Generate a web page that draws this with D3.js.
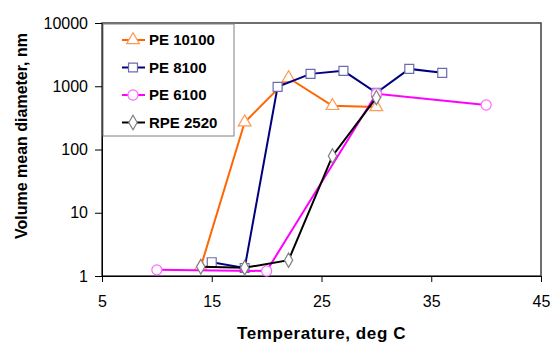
<!doctype html>
<html lang="en">
<head>
<meta charset="UTF-8">
<title>Volume mean diameter vs temperature</title>
<style>
  body { margin: 0; background: #fff; }
  svg { font-family: Arial, "Liberation Sans", sans-serif; }
  .axis path, .axis line { stroke: #000; }
  .axis text { font-size: 16px; fill: #000; }
  .title { font-weight: bold; font-size: 16px; }
  .xtitle { font-size: 17px; letter-spacing: 0.6px; }
  .legend text { font-weight: bold; font-size: 15px; }
</style>
</head>
<body>
<script src="https://d3js.org/d3.v7.min.js"></script>
<script>
// data
var names = ["PE 10100", "PE 8100", "PE 6100", "RPE 2520"];

var pe10100_x = [14, 18, 22, 26, 30];
var pe10100_y = [1.4, 270, 1350, 490, 470];

var pe8100_x = [15, 18, 21, 24, 27, 30, 33, 36];
var pe8100_y = [1.65, 1.34, 980, 1570, 1750, 790, 1880, 1630];

var pe6100_x = [10, 20, 30, 40];
var pe6100_y = [1.25, 1.2, 760, 505];

var rpe2520_x = [14, 18, 22, 26, 30];
var rpe2520_y = [1.4, 1.35, 1.78, 79, 660];

var xTicks = [5, 15, 25, 35, 45];
var yTicks = [1, 10, 100, 1000, 10000];

var lineColors = ["#ff6600", "#000080", "#ff00ff", "#000000"];
var markColors = ["#ff9a55", "#6b6bb0", "#ff66ff", "#808080"];
var shapes = [d3.symbolTriangle, d3.symbolSquare, d3.symbolCircle, d3.symbolDiamond];
var sizes = [70, 80, 80, 60];

var series = [
  {x: pe10100_x, y: pe10100_y},
  {x: pe8100_x, y: pe8100_y},
  {x: pe6100_x, y: pe6100_y},
  {x: rpe2520_x, y: rpe2520_y}
].map(function(s, i) {
  return {name: names[i], pts: s.x.map(function(v, j) { return {x: v, y: s.y[j]}; })};
});

var W = 553, H = 343;
var margin = {top: 23, right: 12, bottom: 67, left: 102};
var width = W - margin.left - margin.right,
    height = H - margin.top - margin.bottom;

var svg = d3.select("body").append("svg")
    .attr("width", W).attr("height", H);

var g = svg.append("g")
    .attr("transform", "translate(" + margin.left + "," + margin.top + ")");

var x = d3.scaleLinear().domain([5, 45]).range([0, width]);
var y = d3.scaleLog().domain([1, 10000]).range([height, 0]);

// plot frame
g.append("rect")
    .attr("width", width).attr("height", height)
    .attr("fill", "none").attr("stroke", "#404040").attr("stroke-width", 1.5);

g.append("g")
    .attr("class", "x axis")
    .attr("transform", "translate(0," + height + ")")
    .call(d3.axisBottom(x).tickValues(xTicks).tickSizeInner(6).tickSizeOuter(0).tickPadding(14));

g.append("g")
    .attr("class", "y axis")
    .call(d3.axisLeft(y).tickValues(yTicks).tickFormat(d3.format("d"))
      .tickSizeInner(7).tickSizeOuter(0).tickPadding(7));

var line = d3.line()
    .x(function(d) { return x(d.x); })
    .y(function(d) { return y(d.y); });

series.forEach(function(s, i) {
  g.append("path")
      .datum(s.pts)
      .attr("fill", "none")
      .attr("stroke", lineColors[i])
      .attr("stroke-width", 2)
      .attr("d", line);
  g.selectAll(".m" + i)
    .data(s.pts)
    .enter().append("path")
      .attr("class", "m" + i)
      .attr("transform", function(d) { return "translate(" + x(d.x) + "," + y(d.y) + ")"; })
      .attr("d", d3.symbol().type(shapes[i]).size(sizes[i]))
      .attr("fill", "#fff")
      .attr("stroke", markColors[i])
      .attr("stroke-width", 1.2);
});

// legend
var leg = g.append("g").attr("class", "legend").attr("transform", "translate(1,1)");
leg.append("rect")
    .attr("width", 131).attr("height", 112)
    .attr("fill", "#fff").attr("stroke", "#808080");
names.forEach(function(n, i) {
  var yy = 16 + i * 27.5;
  leg.append("line")
      .attr("x1", 19).attr("x2", 42).attr("y1", yy).attr("y2", yy)
      .attr("stroke", lineColors[i]).attr("stroke-width", 2);
  leg.append("path")
      .attr("transform", "translate(30," + yy + ")")
      .attr("d", d3.symbol().type(shapes[i]).size(sizes[i]))
      .attr("fill", "#fff").attr("stroke", markColors[i]).attr("stroke-width", 1.2);
  leg.append("text")
      .attr("x", 46).attr("y", yy).attr("dy", "0.36em")
      .text(n);
});

// axis titles
svg.append("text")
    .attr("class", "title xtitle")
    .attr("x", margin.left + width / 2).attr("y", 339)
    .attr("text-anchor", "middle")
    .text("Temperature, deg C");

svg.append("text")
    .attr("class", "title")
    .attr("transform", "translate(27,136) rotate(-90)")
    .attr("text-anchor", "middle")
    .text("Volume mean diameter, nm");
</script>
</body>
</html>
